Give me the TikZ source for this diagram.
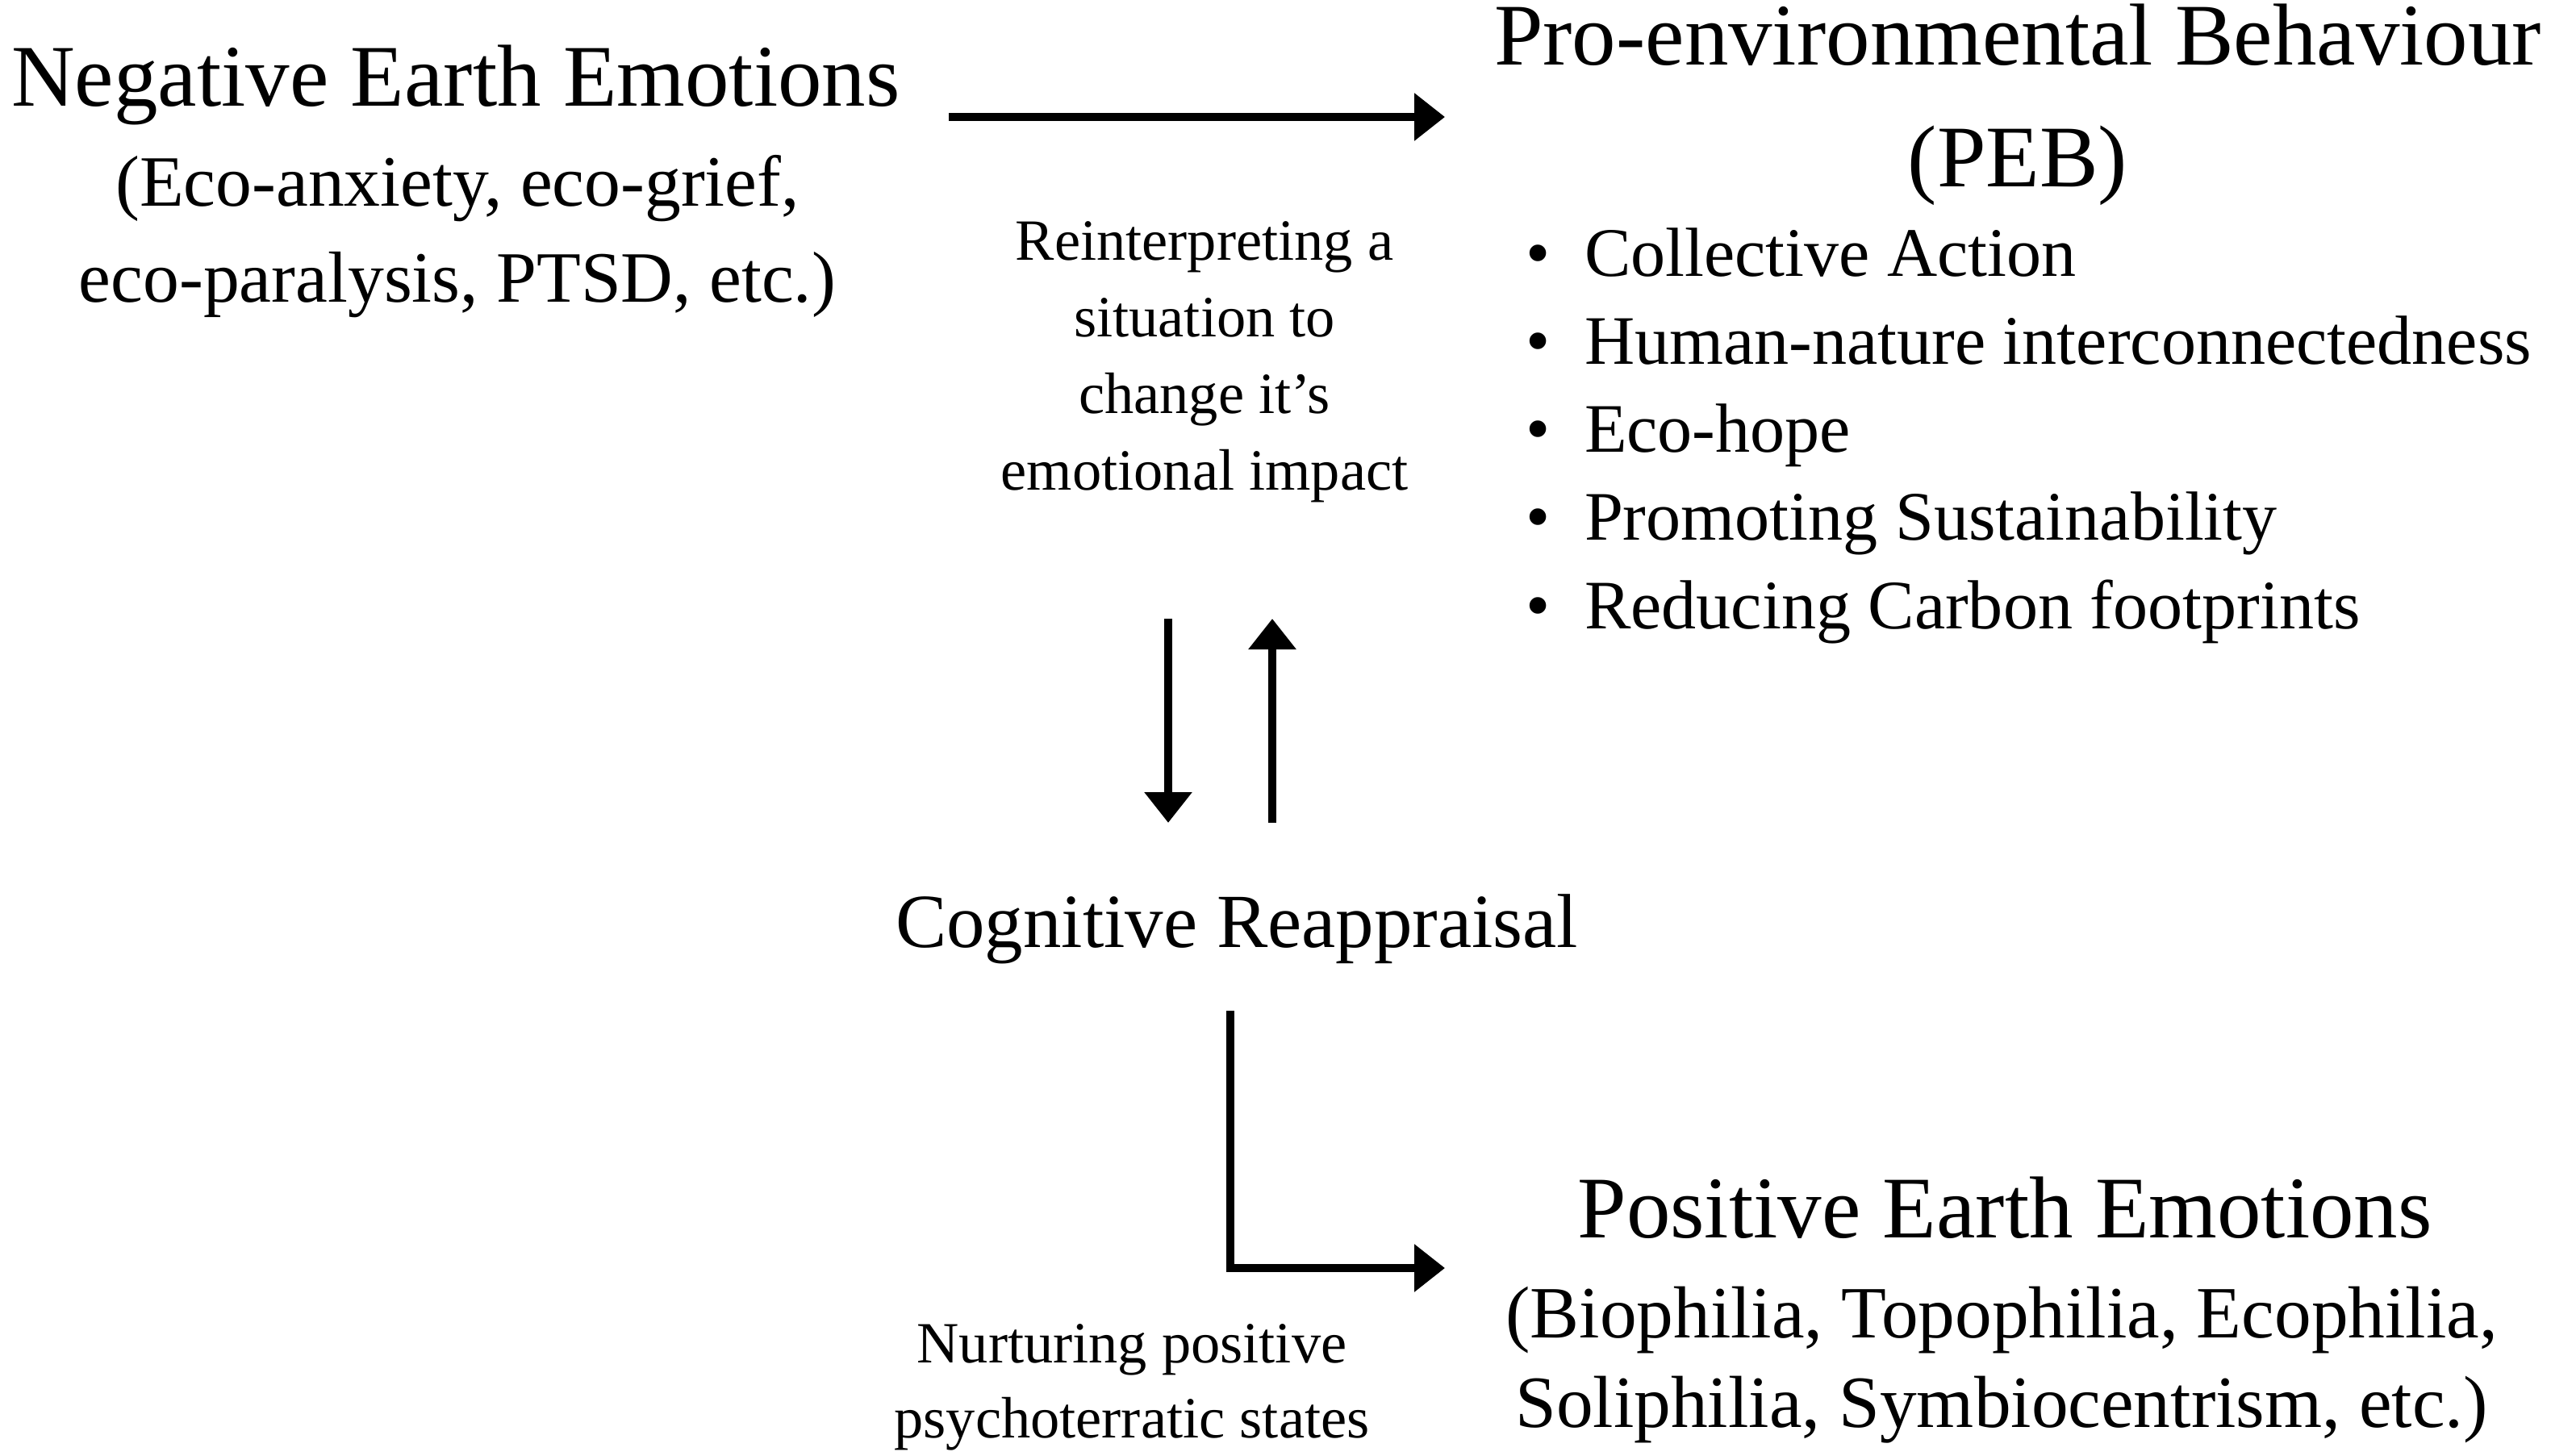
\documentclass[tikz,border=0pt]{standalone}
\usepackage{fontspec}
\setmainfont{Liberation Serif}
\usetikzlibrary{arrows.meta,positioning,calc}

\tikzset{
  headtxt/.style={font=\fontsize{31}{43}\selectfont, align=center, inner sep=0pt},
  subtxt/.style={font=\fontsize{25.5}{34}\selectfont, align=center, inner sep=0pt},
  notetxt/.style={font=\fontsize{20.6}{27}\selectfont, align=center, inner sep=0pt},
  itemtxt/.style={font=\fontsize{24.5}{31}\selectfont, anchor=base west, inner sep=0pt},
  arr/.style={-{Triangle[length=0.38cm,width=0.57cm]}, line width=0.1cm},
}

\begin{document}
\begin{tikzpicture}

\useasboundingbox (0,0) rectangle (31.62,-18.05);

% ================= NEGATIVE EMOTIONS =================
\node[headtxt] (neg) at (5.65,-1.05) {Negative Earth Emotions};
\node[subtxt] (negsub) at (5.67,-2.93)
{(Eco-anxiety, eco-grief,\\eco-paralysis, PTSD, etc.)};

% ================= PEB =================
\node[headtxt] (peb) at (25.01,-1.30) {Pro-environmental Behaviour\\(PEB)};

% Bullet list
\foreach \txt [count=\i] in {Collective Action,
  Human-nature interconnectedness,
  Eco-hope,
  Promoting Sustainability,
  Reducing Carbon footprints}
  \node[itemtxt] (item\i) at ({18.91},{-3.43-1.09*(\i-1)})
  {\textbullet\hspace{0.49em}\txt};

% ================= CENTRE =================
\node[notetxt] (reint) at (14.93,-4.49)
{Reinterpreting a\\situation to\\change it’s\\emotional impact};

\node[headtxt, font=\fontsize{27}{32}\selectfont] (cog) at (15.33,-11.52) {Cognitive Reappraisal};

% ================= POSITIVE EMOTIONS =================
\node[headtxt] (pos) at (24.85,-14.97) {Positive Earth Emotions};
\node[subtxt, font=\fontsize{26}{31.6}\selectfont] (possub) at (24.81,-16.92)
{(Biophilia, Topophilia, Ecophilia,\\Soliphilia, Symbiocentrism, etc.)};

\node[notetxt, font=\fontsize{20.6}{26.5}\selectfont] (nurt) at (14.03,-17.20)
{Nurturing positive\\psychoterratic states};

% Arrow ends
\coordinate (topL) at (11.76,-1.45);
\coordinate (topR) at (17.91,-1.45);
\coordinate (dnT) at (14.48,-7.67);
\coordinate (dnB) at (14.48,-10.20);
\coordinate (upB) at (15.77,-10.20);
\coordinate (upT) at (15.77,-7.67);
\coordinate (elT) at (15.25,-12.53);
\coordinate (elR) at (17.91,-15.72);

% Arrows
\draw[arr] (topL) -- (topR);
\draw[arr] (dnT) -- (dnB);
\draw[arr] (upB) -- (upT);
\draw[arr] (elT) |- (elR);

\end{tikzpicture}
\end{document}
